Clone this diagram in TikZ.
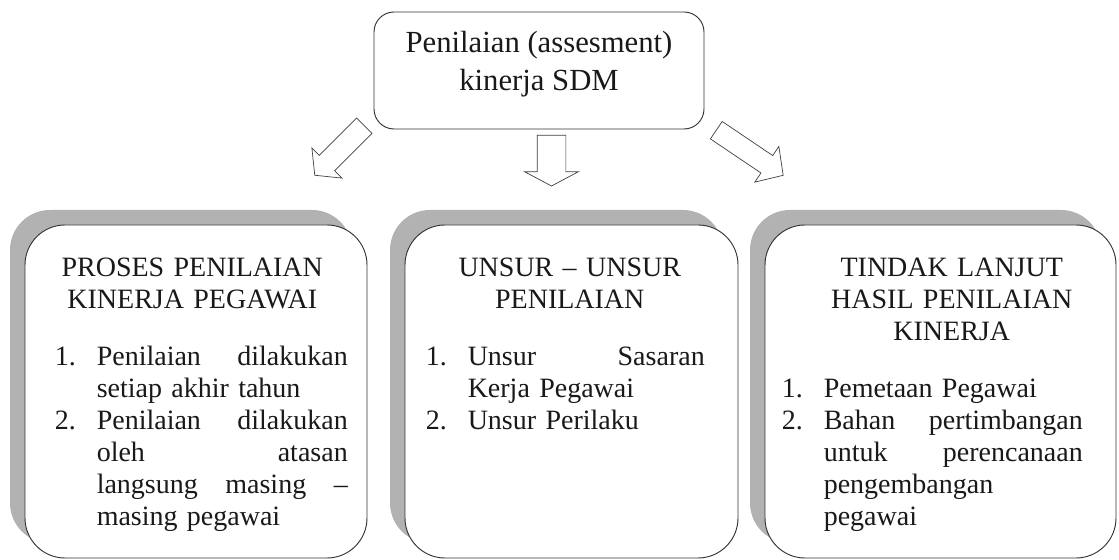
\documentclass[tikz,border=0pt]{standalone}
\usepackage{fontspec}
\setmainfont{Liberation Serif}
\usetikzlibrary{shapes.arrows,shadows}

\hyphenpenalty=10000
\exhyphenpenalty=10000
\newlength{\itmindent}
\setlength{\itmindent}{1.26cm}
\newcommand{\boxfont}{\fontsize{23.9pt}{0.96cm}\selectfont}
\newcommand{\js}{\hspace{0pt plus 1filll}}
\newcommand{\boxhead}[2]{{\centering\advance\leftskip by #1\relax #2\par}\vspace{0.75cm}}
\newcommand{\itm}[2]{\par\hangindent=\itmindent\hangafter=1\noindent\makebox[\itmindent][l]{#1}#2}

\begin{document}
\begin{tikzpicture}[
  topbox/.style={draw=black!80, line width=0.8pt, rounded corners=0.6cm,
    minimum width=9.9cm, minimum height=3.51cm, align=center, text=black!90,
    text depth=0.55cm, font={\fontsize{26.2pt}{1.14cm}\selectfont}},
  bigbox/.style={draw=black!80, line width=0.8pt, fill=white, rounded corners=1.2cm,
    minimum height=9.99cm,
    drop shadow={shadow xshift=-0.45cm, shadow yshift=0.45cm, opacity=1, fill=black!30}},
  boxtext/.style={anchor=north west, inner sep=0pt, text=black!90, font=\boxfont},
  blockarrow/.style={single arrow, draw=black!75, line width=0.6pt, fill=white,
    anchor=tail, inner xsep=0pt}
]
\useasboundingbox (0,0) rectangle (33.57,16.8);

\node[topbox] (sdm) at (16.17,14.685) {Penilaian (assesment)\\kinerja SDM};

\node[blockarrow, minimum height=2.1cm, inner ysep=0.315cm,
  single arrow head extend=0.315cm, single arrow tip angle=102, rotate=-135]
  (arrL) at (10.935,13.035) {};
\node[blockarrow, minimum height=1.52cm, inner ysep=0.42cm,
  single arrow head extend=0.375cm, single arrow tip angle=124, rotate=-90]
  (arrM) at (16.545,12.75) {};
\node[blockarrow, minimum height=2.42cm, inner ysep=0.305cm,
  single arrow head extend=0.33cm, single arrow tip angle=95, rotate=-34]
  (arrR) at (21.48,12.9) {};

\node[bigbox, minimum width=10.26cm] (proses) at (5.88,5.055) {};
\node[bigbox, minimum width=9.99cm] (unsur) at (17.145,5.055) {};
\node[bigbox, minimum width=10.53cm] (tindak) at (28.215,5.055) {};

\node[boxtext, text width=8.79cm] (prosestext)
  at ([xshift=0.9cm, yshift=-0.99cm]proses.north west) {%
  \boxhead{-0.54cm}{PROSES PENILAIAN\\KINERJA PEGAWAI}%
  \itm{1.}{Penilaian \js dilakukan\linebreak setiap akhir tahun}%
  \itm{2.}{Penilaian \js dilakukan\linebreak oleh \js atasan\linebreak
    langsung \js masing \js --\linebreak masing pegawai}\par};
\node[boxtext, text width=8.37cm] (unsurtext)
  at ([xshift=0.63cm, yshift=-0.99cm]unsur.north west) {%
  \boxhead{0.27cm}{UNSUR -- UNSUR\\PENILAIAN}%
  \itm{1.}{Unsur \js Sasaran\linebreak Kerja Pegawai}%
  \itm{2.}{Unsur Perilaku}\par};
\node[boxtext, text width=9.03cm] (tindaktext)
  at ([xshift=0.51cm, yshift=-0.99cm]tindak.north west) {%
  \boxhead{1.17cm}{TINDAK LANJUT\\HASIL PENILAIAN\\KINERJA}%
  \itm{1.}{Pemetaan Pegawai}%
  \itm{2.}{Bahan \js pertimbangan\linebreak untuk \js perencanaan\linebreak
    pengembangan\newline pegawai}\par};
\end{tikzpicture}
\end{document}
